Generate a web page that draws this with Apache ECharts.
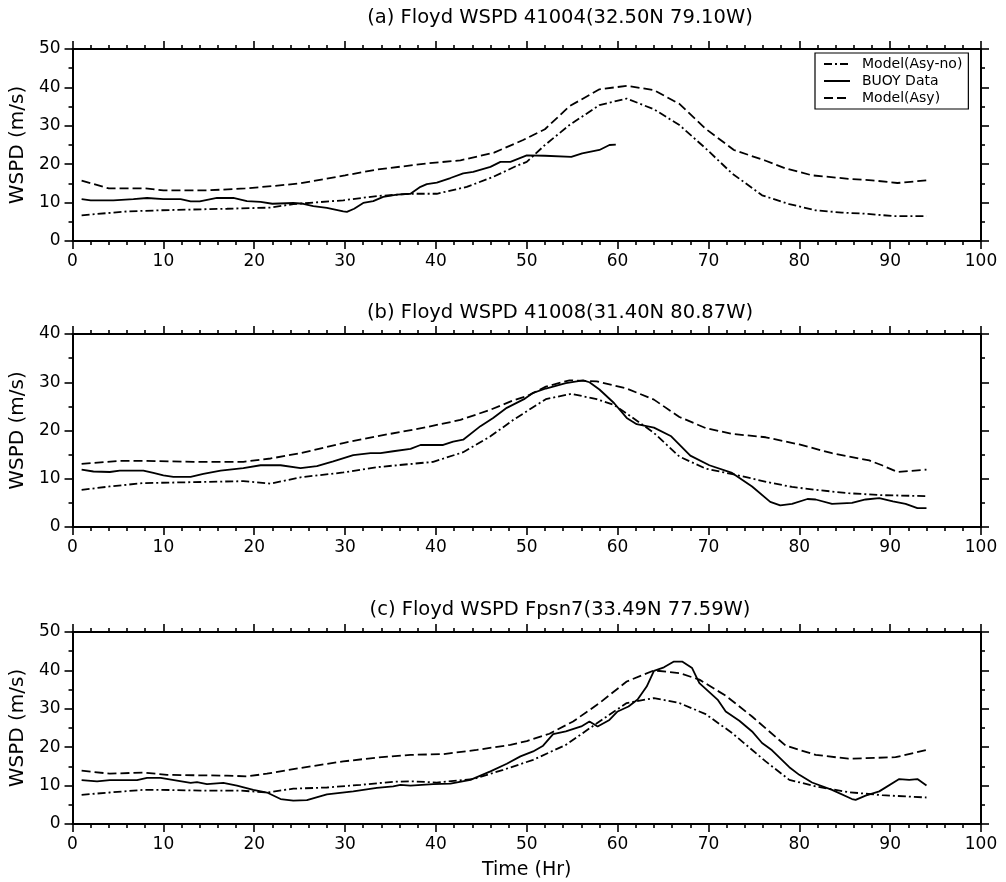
<!DOCTYPE html>
<html>
<head>
<meta charset="utf-8">
<script src="https://cdn.jsdelivr.net/npm/echarts@6/dist/echarts.min.js"></script>
<style>html,body{margin:0;padding:0;background:#fff}#c{width:1006px;height:882px}</style>
</head>
<body>
<div id="c"></div>
<script>
// ---------- Data ----------
const panelTitles = [
  '(a) Floyd WSPD 41004(32.50N 79.10W)',
  '(b) Floyd WSPD 41008(31.40N 80.87W)',
  '(c) Floyd WSPD Fpsn7(33.49N 77.59W)'
];
const seriesNames = ['Model(Asy-no)', 'BUOY Data', 'Model(Asy)'];
const yMaxes = [50, 40, 50];

// Panel (a)
const aNoX = [1,6,9.7,17,21.8,24.3,29.8,33.5,37.2,40.1,43.4,46.3,49,50,52,54.7,58,61,64,66.8,69.7,72.6,75.9,78.9,81.8,84.7,87.3,90.3,94];
const aNoY = [6.7,7.7,8.0,8.4,8.7,9.6,10.6,11.7,12.3,12.3,14.1,16.7,19.7,20.6,25,30.2,35.4,37.1,34.3,30.2,24.1,17.6,11.9,9.6,8.0,7.4,7.1,6.5,6.5];
const aBuoyX = [1,2,4.5,6.7,8.2,10,11.9,13,14,15.9,17.7,19.2,20.7,22,24.3,25.4,26.5,28,29.8,30.2,31,32,33.1,34.2,35.7,37.2,38.3,39,40.1,41.6,43,44.1,46,47.1,48.2,50,52,54.9,56.1,58,59.1,59.8];
const aBuoyY = [10.9,10.6,10.6,10.9,11.2,10.9,10.9,10.3,10.3,11.2,11.2,10.4,10.2,9.7,9.9,9.7,9.1,8.6,7.7,7.6,8.4,9.9,10.4,11.5,12.1,12.3,14.1,14.8,15.2,16.4,17.6,18,19.3,20.6,20.6,22.3,22.2,21.9,22.8,23.7,25,25.1];
const aAsyX = [1,4,8,10,15,19,22,25,30,33.5,39,42.7,46.4,49.6,52,54.7,58,61,64,66.8,69.7,72.8,76.3,78.5,81.4,85.4,88,90.8,94];
const aAsyY = [15.7,13.7,13.7,13.2,13.2,13.7,14.3,15,17.1,18.6,20.2,21,23,26.3,29.1,35.1,39.5,40.4,39.3,35.7,29.2,23.7,20.9,18.9,17.1,16.2,15.8,15.1,15.8];

// Panel (b)
const bNoX = [1,4.1,7.8,13.3,18.8,21.8,25.1,29.8,33.5,39.7,43,46,48.6,49.6,52.1,54.9,57.7,59.6,61.7,64,66.8,69.7,73,77,79.2,81.8,85.4,89.1,94];
const bNoY = [7.7,8.4,9.1,9.3,9.5,9.0,10.3,11.3,12.4,13.5,15.5,18.8,22.3,23.5,26.5,27.6,26.5,25.3,22.6,19.5,14.6,12.1,10.8,9.1,8.3,7.7,7.0,6.6,6.4];
const bBuoyX = [1,2.3,4.1,5.2,7.8,8.9,10,11.1,13,14.4,16.3,18.8,20.7,22.9,25.1,26.9,28.7,30.9,32.8,33.9,35.3,37.2,38.3,40.8,41.9,43,44.9,46.3,47.8,49.7,50.7,52.1,54.3,56.2,56.9,58,59.6,61,62.1,64,65.9,68,70.1,72.6,74.8,76.8,77.9,79.2,80.9,81.8,83.6,85.8,87.3,88.8,90.3,91.7,93,94];
const bBuoyY = [11.9,11.5,11.4,11.7,11.7,11.2,10.7,10.4,10.4,11.0,11.7,12.2,12.8,12.8,12.2,12.6,13.6,14.9,15.3,15.3,15.7,16.2,17,17,17.7,18.1,20.9,22.6,24.7,26.5,27.8,28.7,29.8,30.4,30,28.5,25.7,22.6,21.3,20.6,18.8,14.8,12.8,11.2,8.4,5.2,4.5,4.8,5.8,5.7,4.8,5.0,5.7,6.0,5.3,4.8,3.9,3.9];
const bAsyX = [1,5.2,7.8,13.3,18.8,21.8,25.1,29.8,33.5,39,42.7,46,48.6,50,52.1,54.7,57.7,61,64,66.8,69.7,72.6,76.3,80,83.6,87.7,89.1,90.8,94];
const bAsyY = [13.1,13.7,13.7,13.5,13.5,14.2,15.3,17.4,18.8,20.7,22.2,24.3,26.3,27.1,29.1,30.4,30.2,28.7,26.4,22.8,20.5,19.3,18.6,17.1,15.3,13.8,12.8,11.4,11.9];

// Panel (c)
const cNoX = [1,4.1,7.8,9.7,14.1,18.5,21.4,24.3,28,31.7,35.3,37.5,40.1,44.1,47.4,50.7,54.3,58,61,64,66.8,69.7,72.6,76.3,78.9,81.8,85.4,89.1,94];
const cNoY = [7.6,8.2,8.9,8.9,8.7,8.7,8.2,9.2,9.5,10.2,11.0,11.1,10.8,11.7,14.1,16.7,20.6,26.7,31.5,32.8,31.5,28.6,23.7,16.3,11.5,9.8,8.3,7.5,6.9];
const cBuoyX = [1,2.7,4.1,7.1,8.2,9.7,11.5,13,13.7,14.8,16.6,18.1,19.9,21.4,22.9,24.3,25.8,28,30.9,33.5,35.3,36.1,37.2,39.7,41.6,43.8,46,47.8,49.3,50.7,51.8,52.9,54.3,56,56.9,57.8,59.1,60,61.2,62.2,63.2,64,65.1,66.2,67.1,68.2,69,71,71.9,73.4,74.8,75.9,77,78.9,80,81.4,83.6,85.8,86.2,87.3,88.8,91,92.1,93,94];
const cBuoyY = [11.4,11.1,11.4,11.4,12.0,12.0,11.3,10.7,10.9,10.4,10.7,10.0,8.9,8.2,6.5,6.1,6.2,7.7,8.5,9.4,9.8,10.2,10.0,10.4,10.5,11.5,13.7,15.7,17.6,18.9,20.4,23.4,24.1,25.4,26.7,25.4,27.1,29.3,30.6,32.4,35.8,39.9,40.8,42.3,42.3,40.6,36.7,32.4,29.3,26.9,24.1,21.1,19.2,14.8,12.8,10.8,8.9,6.5,6.3,7.4,8.5,11.7,11.5,11.7,10.0];
const cAsyX = [1,4.1,7.8,10.4,13.3,17,19.2,21.4,25.1,29.8,33.5,37.2,40.8,44.5,48.2,50,52.5,55.1,58,61,64,66.8,69,71.9,74.8,78.5,81.8,85.4,90.6,94];
const cAsyY = [13.9,13.1,13.4,12.8,12.7,12.6,12.4,13.1,14.6,16.3,17.3,18.0,18.2,19.3,20.6,21.6,23.5,26.7,31.5,37.1,40.0,39.3,37.6,33.4,28.0,20.4,18.0,17.0,17.4,19.3];

const panels = [
  [[aNoX, aNoY], [aBuoyX, aBuoyY], [aAsyX, aAsyY]],
  [[bNoX, bNoY], [bBuoyX, bBuoyY], [bAsyX, bAsyY]],
  [[cNoX, cNoY], [cBuoyX, cBuoyY], [cAsyX, cAsyY]]
];

// ---------- Layout / style ----------
const FONT = '"DejaVu Sans", "Liberation Sans", Arial, sans-serif';
const gridTops = [49, 334, 632];
const gridHeights = [192, 193, 192];
const titleTops = [8, 303, 600];
const lineTypes = [[8, 3, 2, 3], 'solid', [9, 4]];

const zip = (xs, ys) => xs.map((x, i) => [x, ys[i]]);

const grids = [], xAxes = [], yAxes = [], series = [], titles = [];
const axisLine = { show: true, onZero: false, lineStyle: { color: '#000', width: 2 } };
const axisTick = { show: true, inside: false, length: 8, lineStyle: { color: '#000', width: 1.6 } };

panels.forEach((p, i) => {
  grids.push({ left: 72, right: 25, top: gridTops[i], height: gridHeights[i], containLabel: false });
  const xBase = {
    type: 'value', gridIndex: i, min: 0, max: 100, interval: 10,
    axisLine, axisTick, splitLine: { show: false },
    minorTick: { show: true, splitNumber: 5, length: 4, lineStyle: { color: '#000', width: 1.6 } }
  };
  xAxes.push(Object.assign({}, xBase, {
    position: 'bottom',
    axisLabel: { show: true, color: '#000', fontSize: 17, fontFamily: FONT, margin: 12 },
    name: i === 2 ? 'Time (Hr)' : '', nameLocation: 'middle', nameGap: 37,
    nameTextStyle: { color: '#000', fontSize: 19, fontFamily: FONT }
  }));
  xAxes.push(Object.assign({}, xBase, { position: 'top', axisLabel: { show: false } }));
  const yBase = {
    type: 'value', gridIndex: i, min: 0, max: yMaxes[i], interval: 10,
    axisLine, axisTick, splitLine: { show: false },
    minorTick: { show: true, splitNumber: 2, length: 4, lineStyle: { color: '#000', width: 1.6 } }
  };
  yAxes.push(Object.assign({}, yBase, {
    position: 'left',
    axisLabel: { show: true, color: '#000', fontSize: 17, fontFamily: FONT, margin: 12 },
    name: 'WSPD (m/s)', nameLocation: 'middle', nameGap: 38,
    nameTextStyle: { color: '#000', fontSize: 20, fontFamily: FONT }
  }));
  yAxes.push(Object.assign({}, yBase, { position: 'right', axisLabel: { show: false } }));

  p.forEach((s, k) => {
    series.push({
      name: seriesNames[k], type: 'line', xAxisIndex: 2 * i, yAxisIndex: 2 * i,
      data: zip(s[0], s[1]), symbol: 'none', showSymbol: false, smooth: false,
      lineStyle: { color: '#000', width: 1.8, type: lineTypes[k] },
      itemStyle: { color: '#000' }, z: 3
    });
  });

  titles.push({
    text: panelTitles[i], left: 560, top: titleTops[i], textAlign: 'center', padding: 0,
    textStyle: { color: '#000', fontSize: 19.5, fontWeight: 'normal', fontFamily: FONT }
  });
});

const chart = echarts.init(document.getElementById('c'), null, { renderer: 'canvas' });
chart.setOption({
  animation: false,
  backgroundColor: '#fff',
  title: titles,
  grid: grids,
  xAxis: xAxes,
  yAxis: yAxes,
  legend: {
    data: seriesNames, orient: 'vertical', left: 815, top: 53,
    borderColor: '#000', borderWidth: 1.2, backgroundColor: '#fff',
    padding: [4, 6, 4, 8], itemGap: 3, itemWidth: 26, itemHeight: 14,
    itemStyle: { opacity: 0 },
    textStyle: { color: '#000', fontSize: 14, lineHeight: 14, fontFamily: FONT, padding: [0, 0, 0, 7] }
  },
  series
});
</script>
</body>
</html>
